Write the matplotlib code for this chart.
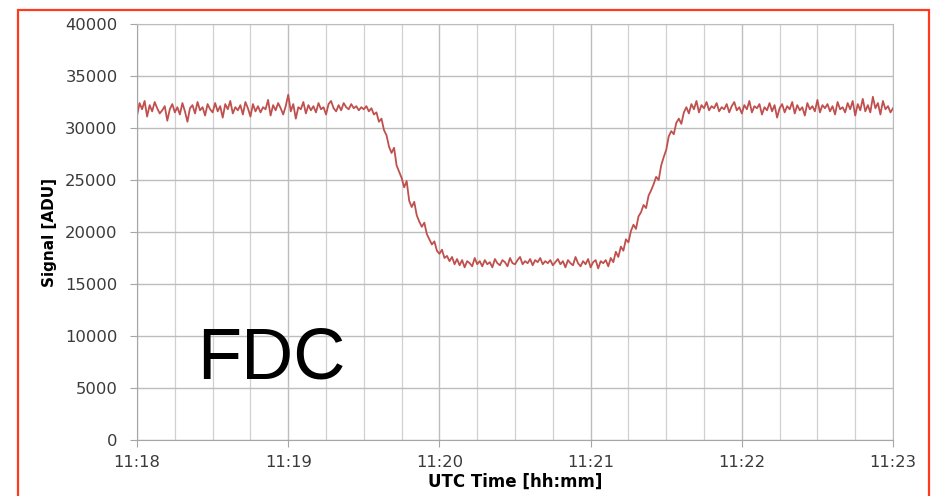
import matplotlib.pyplot as plt
from matplotlib.patches import Rectangle
from matplotlib.ticker import MultipleLocator

# seconds after 11:18:00, one sample per second
t_start = 0
t_step = 1

# signal [ADU] in segments
plateau_before = [
    31200, 32400, 31800, 32600, 31100, 32200, 31600, 32500, 31900, 31400,
    31700, 32100, 30700, 31800, 32300, 31500, 32000, 31300, 32400, 31600,
    30600, 31900, 32200, 31400, 32500, 31700, 32000, 31200, 32300, 31800,
    31500, 32400, 31600, 32100, 31000, 32300, 31800, 32600, 31400, 32000,
    31700, 32200, 31300, 32500, 31900, 31100, 32300, 31600, 32100, 31500,
    32000, 31800, 32700, 31200, 32200, 31700, 32400, 31900, 31300, 32100,
    33200, 31600, 32300, 30900, 32000, 31800, 32500, 31400, 32200, 31700,
    32100, 31500, 32400, 31800, 32000, 31300, 32300, 32600, 31900, 31600,
    32200, 31700, 32400, 32000, 31800, 32300, 31900, 32100, 31700, 32000,
]
ingress = [
    31800, 32100, 31600, 31900, 31300, 31500, 30600, 30900, 29800, 29300,
    28200, 27600, 28100, 26400, 25800, 25200, 24300, 24900, 23000, 22400,
    22900, 21600, 21000, 20500, 20900, 19800, 19300, 18800, 19100, 18200,
    17900, 18300, 17500, 17700, 17200, 17600,
]
eclipse = [
    16900, 17400, 16800, 17300, 16600, 17200, 17000, 16700, 17500, 16900,
    17200, 16700, 17300, 16900, 17100, 16600, 17400, 17000, 16800, 17300,
    17100, 16700, 17500, 17000, 16900, 17300, 17600, 16900, 17200, 17000,
    17400, 16800, 17300, 17100, 17500, 16900, 17200, 17000, 17300, 16800,
    17100, 17400, 16900, 17200, 16600, 17300, 17000, 16800, 17600, 17000,
    16700, 17200, 16900, 17400, 16600, 17100, 17300, 16500, 17200, 17000,
    17300, 16700, 17500, 17100, 18100,
]
egress = [
    17600, 18600, 18200, 19300, 19000, 20100, 20700, 20300, 21500, 21900,
    22600, 22300, 23500, 24000, 24600, 25300, 25000, 26400, 27200, 27900,
    29200, 29700, 29400, 30500, 30900, 30400, 31500, 32000, 31400, 32300,
]
plateau_after = [
    31800, 32600, 31500, 32200, 31900, 32500, 31700, 32100, 31900, 32400,
    31600, 32000, 31800, 32300, 31500, 32100, 32500, 31700, 32000, 31400,
    32200, 31800, 32600, 31500, 32100, 31900, 32300, 31300, 32000, 31700,
    32400, 31600, 32200, 31000, 31900, 32300, 31500, 32100, 31800, 32500,
    31400, 32200, 31700, 32000, 31200, 32400, 31800, 32100, 31600, 32700,
    31500, 32200, 31900, 32300, 31600, 32100, 31300, 32500, 31800, 32000,
    31500, 32400, 31800, 32600, 31200, 32300, 31700, 32800, 31600, 32200,
    31500, 33000, 31900, 32400, 31300, 32600, 31800, 32100, 31500, 31900,
]

tick_labels = ['11:18', '11:19', '11:20', '11:21', '11:22', '11:23']

signal = plateau_before + ingress + eclipse + egress + plateau_after
t = [t_start + i * t_step for i in range(len(signal))]

fig = plt.figure(figsize=(9.31, 4.96), dpi=100)
ax = fig.add_axes([0.1472, 0.1129, 0.812, 0.8387])

ax.plot(t, signal, color='#C0504D', lw=1.3)

ax.set_xlim(0, 300)
ax.set_ylim(0, 40000)
ax.set_xticks(range(0, 301, 60))
ax.set_xticklabels(tick_labels)
ax.xaxis.set_minor_locator(MultipleLocator(15))
ax.set_yticks(range(0, 40001, 5000))

ax.grid(True, which='major', color='#BDBDBD', lw=1.0)
ax.grid(True, which='minor', axis='x', color='#D0D0D0', lw=0.9)
ax.set_axisbelow(True)
for s in ax.spines.values():
    s.set_color('#BDBDBD')
ax.spines['left'].set_color('#A6A6A6')
ax.spines['bottom'].set_color('#A6A6A6')

ax.tick_params(axis='both', which='major', length=5, color='#A6A6A6',
               labelsize=11.8, labelcolor='#3A3A3A')
ax.tick_params(axis='x', which='minor', length=0)
ax.tick_params(axis='y', pad=9)
ax.tick_params(axis='x', pad=6)

ax.set_ylabel('Signal [ADU]', fontweight='bold', fontsize=11, labelpad=6)
ax.set_xlabel('UTC Time [hh:mm]', fontweight='bold', fontsize=12, labelpad=2)

ax.text(24, 5900, 'FDC', family='Liberation Sans', fontsize=52,
        ha='left', va='baseline', color='black')

# red frame around the slide
fig.patches.append(Rectangle((18 / 931, -0.05), 911 / 931, 1.05 - 10 / 496,
                             transform=fig.transFigure, fill=False,
                             edgecolor='#FF3A1E', lw=1.6))

fig.savefig('out.png', dpi=100)
